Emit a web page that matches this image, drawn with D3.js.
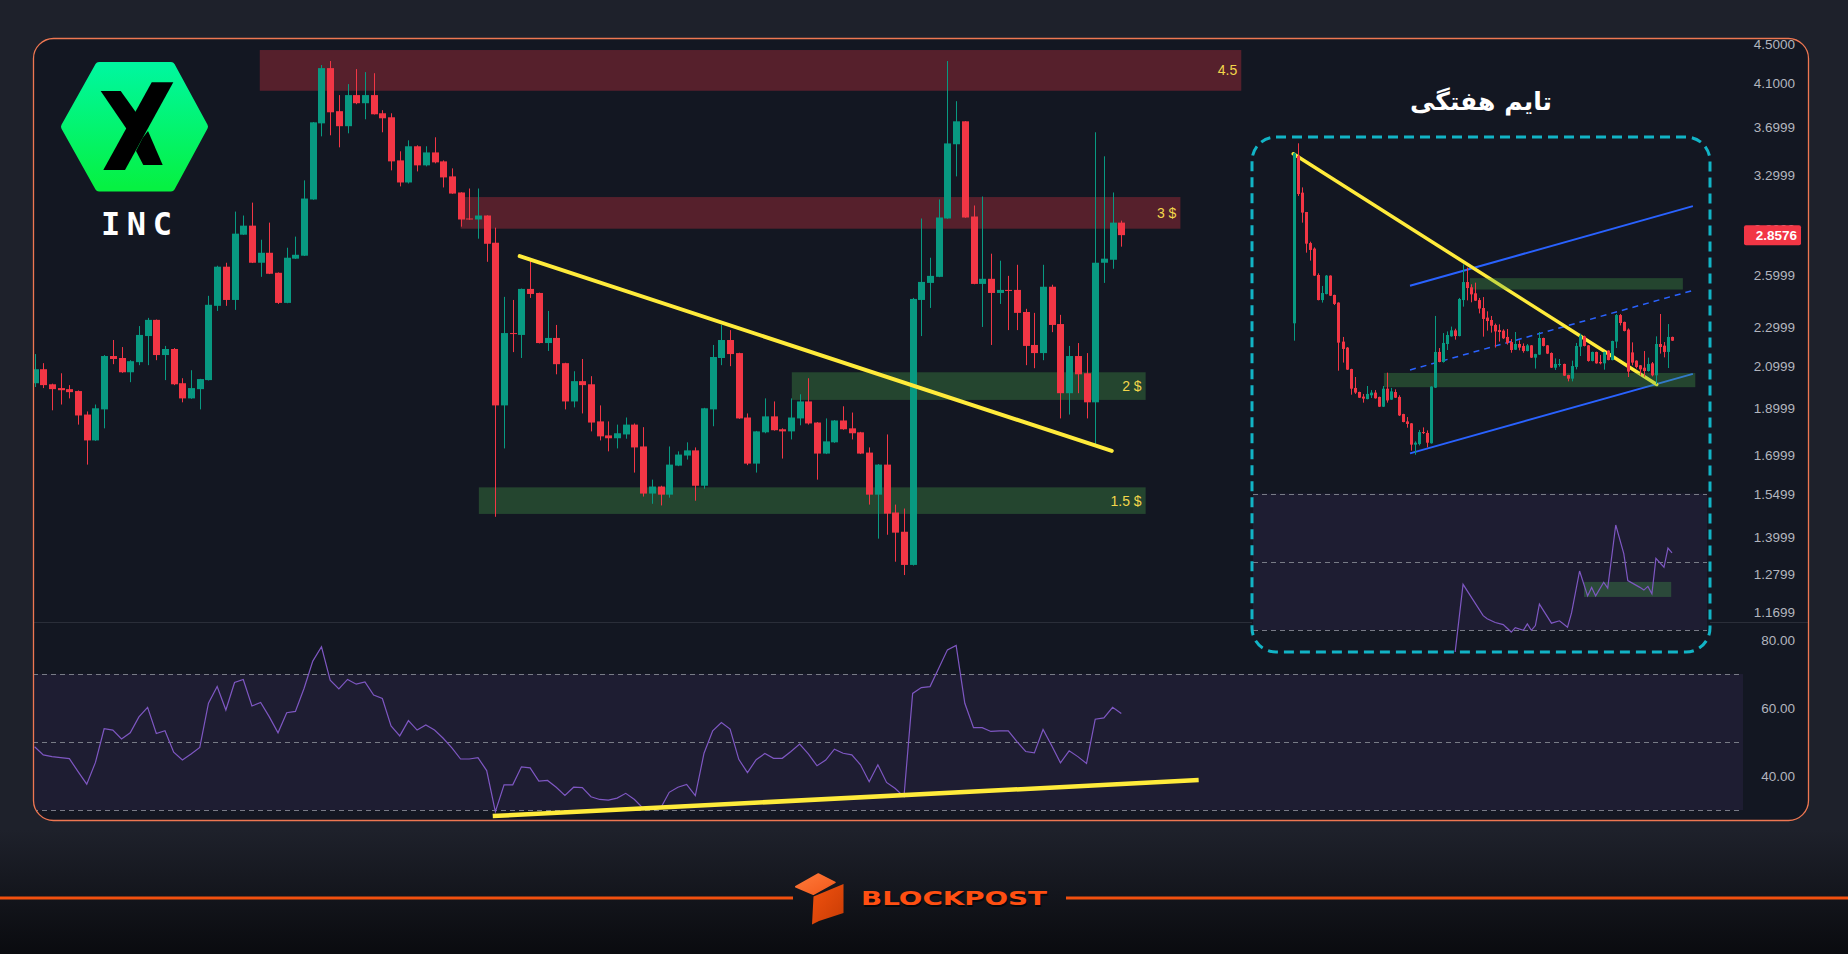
<!DOCTYPE html>
<html>
<head>
<meta charset="utf-8">
<title>INC</title>
<script src="https://cdn.jsdelivr.net/npm/d3@7/dist/d3.min.js"></script>
<style>
  html, body { margin: 0; padding: 0; background: #1e212b; overflow: hidden; }
  svg { display: block; }
</style>
</head>
<body>
<svg id="chart" width="1848" height="954"></svg>
<script>
// ============ daily candles (price) ============
const opens = [
  2.012, 2.080, 2.007, 1.989, 1.984, 1.975, 1.868, 1.757, 1.891, 2.146,
  2.136, 2.065, 2.115, 2.250, 2.338, 2.151, 2.182, 2.012, 1.941, 1.984,
  2.027, 2.417, 2.652, 2.451, 2.861, 2.923, 2.677, 2.741, 2.614, 2.434,
  2.703, 2.722, 3.110, 3.725, 4.246, 3.834, 3.700, 3.983, 3.907, 3.983,
  3.815, 3.779, 3.412, 3.238, 3.528, 3.372, 3.477, 3.404, 3.285, 3.162,
  2.973, 2.966, 2.994, 2.807, 1.909, 2.266, 2.256, 2.516, 2.492, 2.213,
  2.240, 2.110, 1.927, 2.022, 2.007, 1.838, 1.778, 1.766, 1.782, 1.824,
  1.732, 1.549, 1.575, 1.545, 1.655, 1.695, 1.716, 1.578, 1.891, 2.136,
  2.229, 2.161, 1.855, 1.663, 1.791, 1.860, 1.804, 1.795, 1.851, 1.927,
  1.833, 1.703, 1.749, 1.842, 1.808, 1.791, 1.707, 1.545, 1.659, 1.481,
  1.415, 1.308, 2.451, 2.552, 2.589, 2.973, 3.545, 3.743, 2.987, 2.546,
  2.577, 2.492, 2.510, 2.510, 2.382, 2.203, 2.161, 2.529, 2.315, 1.965,
  2.146, 2.060, 1.923, 2.677, 2.696, 2.944
];
const highs = [
  2.156, 2.110, 2.010, 2.060, 2.003, 1.978, 1.882, 1.913, 2.151, 2.229,
  2.192, 2.125, 2.304, 2.349, 2.340, 2.198, 2.187, 2.036, 2.075, 2.033,
  2.475, 2.658, 2.677, 3.022, 2.994, 3.087, 2.827, 2.944, 2.616, 2.774,
  2.848, 3.254, 3.737, 4.277, 4.318, 3.983, 4.088, 4.236, 4.206, 4.195,
  3.843, 3.815, 3.486, 3.578, 3.536, 3.528, 3.604, 3.412, 3.348, 3.164,
  3.192, 3.192, 2.996, 2.909, 2.469, 2.451, 2.518, 2.696, 2.494, 2.388,
  2.310, 2.112, 2.070, 2.131, 2.046, 1.909, 1.838, 1.824, 1.855, 1.829,
  1.813, 1.601, 1.578, 1.732, 1.712, 1.749, 1.728, 1.898, 2.203, 2.310,
  2.282, 2.163, 1.873, 1.797, 1.941, 1.927, 1.808, 1.941, 1.960, 2.036,
  1.835, 1.851, 1.844, 1.905, 1.877, 1.793, 1.728, 1.661, 1.782, 1.509,
  1.495, 2.463, 2.973, 2.709, 3.110, 4.318, 3.926, 3.745, 3.066, 3.132,
  2.735, 2.690, 2.595, 2.664, 2.400, 2.377, 2.664, 2.541, 2.366, 2.198,
  2.213, 2.161, 3.647, 3.445, 3.162, 2.958
];
const lows = [
  1.994, 1.989, 1.887, 1.913, 1.941, 1.824, 1.659, 1.755, 1.808, 2.105,
  2.062, 2.017, 2.100, 2.100, 2.125, 2.027, 2.003, 1.923, 1.939, 1.891,
  2.025, 2.388, 2.417, 2.394, 2.859, 2.675, 2.589, 2.606, 2.428, 2.432,
  2.701, 2.720, 3.108, 3.612, 3.621, 3.519, 3.638, 3.898, 3.761, 3.804,
  3.647, 3.332, 3.208, 3.230, 3.324, 3.364, 3.388, 3.200, 3.152, 2.916,
  2.964, 2.834, 2.683, 1.466, 1.724, 2.166, 2.136, 2.463, 2.211, 2.172,
  2.055, 1.891, 1.900, 1.873, 1.795, 1.757, 1.712, 1.724, 1.764, 1.628,
  1.538, 1.512, 1.506, 1.534, 1.653, 1.679, 1.523, 1.567, 1.817, 2.100,
  2.095, 1.849, 1.657, 1.628, 1.787, 1.798, 1.683, 1.761, 1.821, 1.824,
  1.601, 1.701, 1.747, 1.802, 1.761, 1.701, 1.509, 1.392, 1.405, 1.318,
  1.277, 1.306, 2.250, 2.405, 2.587, 2.971, 3.285, 2.978, 2.544, 2.299,
  2.203, 2.428, 2.282, 2.282, 2.100, 2.085, 2.125, 2.271, 1.851, 1.868,
  1.965, 1.851, 1.732, 2.552, 2.639, 2.781
];
const closes = [
  2.080, 2.003, 1.984, 1.979, 1.970, 1.864, 1.757, 1.896, 2.146, 2.131,
  2.065, 2.120, 2.256, 2.338, 2.151, 2.182, 2.007, 1.941, 1.989, 2.032,
  2.423, 2.652, 2.451, 2.868, 2.923, 2.677, 2.741, 2.608, 2.434, 2.709,
  2.728, 3.117, 3.734, 4.246, 3.824, 3.700, 3.983, 3.907, 3.983, 3.806,
  3.770, 3.404, 3.238, 3.528, 3.372, 3.477, 3.396, 3.277, 3.154, 2.966,
  2.966, 2.994, 2.800, 1.909, 2.266, 2.261, 2.516, 2.486, 2.213, 2.240,
  2.105, 1.927, 2.022, 2.003, 1.833, 1.774, 1.766, 1.787, 1.824, 1.728,
  1.549, 1.575, 1.545, 1.659, 1.699, 1.716, 1.578, 1.896, 2.141, 2.229,
  2.156, 1.851, 1.663, 1.795, 1.860, 1.800, 1.795, 1.855, 1.927, 1.829,
  1.703, 1.753, 1.842, 1.804, 1.787, 1.703, 1.545, 1.659, 1.477, 1.412,
  1.308, 2.457, 2.558, 2.595, 2.980, 3.552, 3.743, 2.980, 2.546, 2.577,
  2.492, 2.510, 2.504, 2.377, 2.198, 2.161, 2.529, 2.310, 1.965, 2.146,
  2.055, 1.923, 2.677, 2.703, 2.944, 2.858
];
const lastPrice = 2.8576;

// ============ daily RSI ============
const rsiValues = [
  48.6, 46.2, 45.7, 45.4, 45.1, 41.3, 37.6, 44.0, 53.9, 53.5,
  50.9, 52.7, 57.4, 60.2, 52.5, 53.3, 47.0, 44.7, 46.5, 48.4,
  61.4, 66.3, 59.4, 67.5, 68.4, 60.6, 61.6, 57.4, 52.7, 58.6,
  59.0, 65.8, 73.8, 78.0, 68.2, 65.6, 68.4, 67.0, 67.7, 63.8,
  62.8, 54.7, 51.8, 56.3, 53.5, 55.0, 53.5, 51.1, 48.3, 45.0,
  45.0, 45.4, 41.6, 29.5, 37.4, 37.4, 42.7, 42.4, 38.5, 38.7,
  36.7, 34.3, 36.7, 36.6, 33.9, 33.1, 32.9, 33.5, 34.9, 33.1,
  30.5, 31.0, 30.5, 35.2, 36.7, 37.5, 34.2, 46.7, 53.3, 55.7,
  53.8, 44.9, 41.0, 44.8, 46.6, 45.2, 45.2, 47.2, 49.4, 46.5,
  43.0, 44.7, 47.9, 46.7, 46.2, 43.3, 38.3, 43.3, 38.1, 36.3,
  33.9, 64.3, 66.0, 66.3, 71.7, 77.1, 78.4, 61.4, 54.2, 54.2,
  53.1, 53.3, 53.3, 50.1, 47.2, 46.8, 53.7, 48.9, 43.9, 47.4,
  45.7, 43.7, 56.7, 57.1, 60.2, 58.4
];

// ============ axis ticks ============
const tickLabels = ['4.5000', '4.1000', '3.6999', '3.2999', '2.8999', '2.5999', '2.2999',
  '2.0999', '1.8999', '1.6999', '1.5499', '1.3999', '1.2799', '1.1699'];
const rsiTicks = [80, 60, 40];
const rsiBands = [70, 50, 30];

// ============ zones & drawings (bar index / price) ============
const zoneLabels = ['4.5', '3 $', '2 $', '1.5 $'];
const zoneKinds = ['supply', 'supply', 'demand', 'demand'];
const zoneTop = [4.432, 3.128, 2.065, 1.572];
const zoneBottom = [4.024, 2.902, 1.934, 1.476];
const zoneFrom = [25.9, 49.0, 87.1, 51.1];
const zoneTo = [138.8, 131.8, 127.8, 127.8];

const trendIdx = [55.8, 123.9];
const trendPrices = [2.719, 1.714];
const rsiTrendIdx = [52.7, 133.9];
const rsiTrendVals = [28.2, 38.8];

// ============ weekly inset ============
const insetTitle = 'تایم هفتگی';
const insetOpens = [
  2.378, 3.493, 3.249, 3.120, 2.913, 2.876, 2.700, 2.533, 2.573, 2.696,
  2.567, 2.516, 2.256, 2.216, 2.073, 1.947, 1.920, 1.889, 1.873, 1.898,
  1.916, 1.887, 1.822, 1.942, 1.869, 1.920, 1.887, 1.773, 1.724, 1.711,
  1.569, 1.573, 1.653, 1.647, 1.578, 1.949, 2.187, 2.120, 2.240, 2.291,
  2.331, 2.293, 2.533, 2.653, 2.618, 2.578, 2.533, 2.480, 2.416, 2.400,
  2.367, 2.333, 2.329, 2.287, 2.253, 2.202, 2.240, 2.227, 2.193, 2.231,
  2.149, 2.169, 2.280, 2.231, 2.180, 2.082, 2.100, 2.107, 2.033, 2.009,
  2.087, 2.222, 2.291, 2.231, 2.127, 2.187, 2.120, 2.111, 2.196, 2.133,
  2.256, 2.433, 2.387, 2.336, 2.184, 2.129, 2.098, 2.082, 2.060, 2.111,
  2.031, 2.240, 2.229, 2.187, 2.287
];
const insetHighs = [
  3.516, 3.578, 3.284, 3.120, 2.922, 2.884, 2.711, 2.627, 2.700, 2.698,
  2.569, 2.518, 2.287, 2.220, 2.075, 2.020, 1.922, 1.907, 1.960, 1.933,
  1.933, 1.889, 1.960, 2.049, 1.947, 1.938, 1.898, 1.775, 1.753, 1.713,
  1.591, 1.667, 1.684, 1.664, 1.958, 2.427, 2.213, 2.313, 2.324, 2.356,
  2.342, 2.547, 2.771, 2.749, 2.638, 2.649, 2.547, 2.553, 2.458, 2.427,
  2.376, 2.371, 2.338, 2.340, 2.273, 2.320, 2.264, 2.244, 2.240, 2.233,
  2.175, 2.320, 2.282, 2.233, 2.184, 2.144, 2.140, 2.109, 2.035, 2.129,
  2.247, 2.309, 2.296, 2.233, 2.189, 2.189, 2.167, 2.189, 2.198, 2.262,
  2.440, 2.440, 2.389, 2.344, 2.251, 2.131, 2.100, 2.193, 2.149, 2.120,
  2.291, 2.440, 2.253, 2.373, 2.289
];
const insetLows = [
  2.262, 3.227, 3.049, 2.849, 2.796, 2.694, 2.531, 2.516, 2.571, 2.560,
  2.500, 2.062, 2.116, 2.067, 1.902, 1.907, 1.880, 1.849, 1.871, 1.880,
  1.876, 1.820, 1.820, 1.849, 1.867, 1.880, 1.760, 1.718, 1.682, 1.529,
  1.502, 1.564, 1.640, 1.551, 1.576, 1.947, 2.118, 2.116, 2.200, 2.289,
  2.269, 2.291, 2.489, 2.531, 2.518, 2.527, 2.444, 2.289, 2.329, 2.316,
  2.216, 2.256, 2.273, 2.236, 2.182, 2.200, 2.198, 2.182, 2.191, 2.147,
  2.076, 2.167, 2.224, 2.173, 2.080, 2.067, 2.089, 2.027, 1.991, 1.991,
  2.071, 2.160, 2.224, 2.122, 2.124, 2.109, 2.104, 2.069, 2.131, 2.131,
  2.213, 2.364, 2.324, 2.020, 2.098, 2.078, 2.031, 2.022, 2.056, 2.024,
  1.973, 2.176, 2.151, 2.080, 2.260
];
const insetCloses = [
  3.511, 3.240, 3.116, 2.909, 2.867, 2.696, 2.533, 2.580, 2.696, 2.562,
  2.507, 2.249, 2.207, 2.069, 1.942, 1.916, 1.882, 1.876, 1.907, 1.916,
  1.878, 1.822, 1.942, 1.864, 1.924, 1.882, 1.764, 1.720, 1.707, 1.569,
  1.582, 1.653, 1.647, 1.582, 1.956, 2.187, 2.120, 2.247, 2.300, 2.331,
  2.293, 2.540, 2.653, 2.613, 2.571, 2.529, 2.476, 2.407, 2.393, 2.362,
  2.324, 2.320, 2.278, 2.247, 2.200, 2.240, 2.216, 2.193, 2.231, 2.149,
  2.173, 2.280, 2.227, 2.176, 2.082, 2.107, 2.107, 2.029, 2.009, 2.093,
  2.227, 2.296, 2.227, 2.127, 2.187, 2.111, 2.111, 2.187, 2.133, 2.260,
  2.433, 2.380, 2.327, 2.056, 2.116, 2.087, 2.071, 2.060, 2.107, 2.031,
  2.240, 2.220, 2.187, 2.287, 2.262
];
const insetRsiWeeks = [40, 42, 47, 48, 50, 52, 54, 55, 57, 58, 59, 60, 61, 64, 66, 68, 69,
  71, 73, 74, 75, 77, 78, 80, 82, 83, 86, 87, 88, 89, 90, 92, 93, 94];
const insetRsiValues = [23.2, 43.4, 34.2, 33.3, 32.2, 31.6, 29.4, 30.7, 29.9, 31.8, 29.9, 31.3, 37.6,
  32.0, 32.7, 30.8, 35.0, 47.3, 40.0, 42.5, 40.0, 44.0, 42.3, 60.8, 52.4, 44.5, 42.5, 41.7,
  42.8, 40.6, 51.0, 48.4, 54.0, 52.6];

const insetTrendWeeks = [-0.25, 90.2];
const insetTrendPrices = [3.508, 1.970];
const channelWeeks = [28.8, 99.2];
const channelUpper = [2.628, 3.159];
const channelMid = [2.067, 2.597];
const channelLower = [1.511, 2.041];
const insetZoneFrom = [43.7, 22.3];
const insetZoneTo = [96.7, 99.8];
const insetZoneTop = [2.679, 2.047];
const insetZoneBottom = [2.603, 1.952];
const insetRsiZoneWeeks = [72.1, 93.8];
const insetRsiZoneVals = [44.1, 39.7];

// ============ setup ============
const W = 1848, H = 954;
const UP = '#089981', DOWN = '#f23645';
const AXIS_FONT = '"Liberation Sans", Arial, sans-serif';

const svg = d3.select('#chart');
const defs = svg.append('defs');

const x = d3.scaleLinear().domain([0, 125]).range([34.6, 1121.3]);
const y = d3.scaleLog().domain([1.1699, 4.5]).range([612, 43.6]);
const yRsi = d3.scaleLinear().domain([30, 80]).range([810, 640]);

const xIn = d3.scaleLinear().domain([0, 94]).range([1294.3, 1672]);
const yIn = d3.scaleLinear().domain([1.6, 3.6]).range([440, 140]);
const yInRsi = d3.scaleLinear().domain([30, 70]).range([630, 493.6]);

// ============ background ============
svg.append('rect').attr('width', W).attr('height', H).attr('fill', '#1e212b');
const bgGrad = defs.append('linearGradient').attr('id', 'bgGrad')
  .attr('x1', 0).attr('y1', 0).attr('x2', 0).attr('y2', 1);
bgGrad.append('stop').attr('offset', '0%').attr('stop-color', '#1e212b');
bgGrad.append('stop').attr('offset', '100%').attr('stop-color', '#0a0b0f');
svg.append('rect').attr('y', 830).attr('width', W).attr('height', H - 830).attr('fill', 'url(#bgGrad)');

// ============ panel ============
const panel = { x: 33.5, y: 38.5, w: 1775, h: 782, r: 20 };
defs.append('clipPath').attr('id', 'panelClip').append('rect')
  .attr('x', panel.x).attr('y', panel.y).attr('width', panel.w).attr('height', panel.h).attr('rx', panel.r);
defs.append('clipPath').attr('id', 'priceClip').append('rect')
  .attr('x', 33).attr('y', 38).attr('width', 1710).attr('height', 584);

svg.append('rect')
  .attr('x', panel.x).attr('y', panel.y).attr('width', panel.w).attr('height', panel.h).attr('rx', panel.r)
  .attr('fill', '#131722');

const main = svg.append('g').attr('clip-path', 'url(#panelClip)');
const price = main.append('g').attr('clip-path', 'url(#priceClip)');

// zones
const zones = zoneLabels.map((label, k) => ({
  label, kind: zoneKinds[k], top: zoneTop[k], bottom: zoneBottom[k], from: zoneFrom[k], to: zoneTo[k]
}));
price.selectAll('rect.zone').data(zones).join('rect')
  .attr('class', 'zone')
  .attr('x', d => x(d.from))
  .attr('width', d => x(d.to) - x(d.from))
  .attr('y', d => y(d.top))
  .attr('height', d => y(d.bottom) - y(d.top))
  .attr('fill', d => d.kind === 'supply' ? 'rgba(242,54,69,0.3)' : 'rgba(76,175,80,0.3)');

// candles
const bars = opens.map((o, i) => ({ i, o, h: highs[i], l: lows[i], c: closes[i] }));
price.selectAll('line.wick').data(bars).join('line')
  .attr('class', 'wick')
  .attr('x1', d => Math.round(x(d.i)) + 0.5)
  .attr('x2', d => Math.round(x(d.i)) + 0.5)
  .attr('y1', d => y(d.h))
  .attr('y2', d => y(d.l))
  .attr('stroke', d => d.c >= d.o ? UP : DOWN)
  .attr('stroke-width', 1);
price.selectAll('rect.body').data(bars).join('rect')
  .attr('class', 'body')
  .attr('x', d => Math.round(x(d.i)) - 3)
  .attr('width', 7)
  .attr('y', d => y(Math.max(d.o, d.c)))
  .attr('height', d => Math.max(1, Math.abs(y(d.o) - y(d.c))))
  .attr('fill', d => d.c >= d.o ? UP : DOWN);

// trend line
price.append('line')
  .attr('x1', x(trendIdx[0])).attr('y1', y(trendPrices[0]))
  .attr('x2', x(trendIdx[1])).attr('y2', y(trendPrices[1]))
  .attr('stroke', '#ffeb3b').attr('stroke-width', 4).attr('stroke-linecap', 'round');

// zone labels
price.selectAll('text.zoneLabel').data(zones).join('text')
  .attr('class', 'zoneLabel')
  .attr('x', d => x(d.to) - 4)
  .attr('y', d => (y(d.top) + y(d.bottom)) / 2)
  .attr('dy', '0.36em')
  .attr('text-anchor', 'end')
  .attr('fill', '#f2d64b')
  .style('font', `14px ${AXIS_FONT}`)
  .text(d => d.label);

// separator
main.append('line')
  .attr('x1', 33).attr('x2', 1808).attr('y1', 622.5).attr('y2', 622.5)
  .attr('stroke', '#2a2e39').attr('stroke-width', 1);

// ============ RSI pane ============
main.append('rect')
  .attr('x', 33).attr('width', 1743 - 33)
  .attr('y', yRsi(70)).attr('height', yRsi(30) - yRsi(70))
  .attr('fill', 'rgba(126,87,194,0.1)');
main.selectAll('line.band').data(rsiBands).join('line')
  .attr('class', 'band')
  .attr('x1', 33).attr('x2', 1743)
  .attr('y1', d => Math.round(yRsi(d)) + 0.5).attr('y2', d => Math.round(yRsi(d)) + 0.5)
  .attr('stroke', '#787b86').attr('stroke-dasharray', '5,4').attr('stroke-width', 1);

main.append('path')
  .datum(rsiValues)
  .attr('fill', 'none')
  .attr('stroke', '#7e57c2')
  .attr('stroke-width', 1.2)
  .attr('d', d3.line().x((d, i) => x(i)).y(d => yRsi(d)));

main.append('line')
  .attr('x1', x(rsiTrendIdx[0])).attr('y1', yRsi(rsiTrendVals[0]))
  .attr('x2', x(rsiTrendIdx[1])).attr('y2', yRsi(rsiTrendVals[1]))
  .attr('stroke', '#ffeb3b').attr('stroke-width', 4.5).attr('stroke-linecap', 'butt');

// panel border
svg.append('rect')
  .attr('x', panel.x).attr('y', panel.y).attr('width', panel.w).attr('height', panel.h).attr('rx', panel.r)
  .attr('fill', 'none').attr('stroke', '#ee7752').attr('stroke-width', 1.3);

// ============ right axes ============
const priceAxis = d3.axisLeft(y)
  .tickValues(tickLabels.map(Number))
  .tickFormat((d, i) => tickLabels[i])
  .tickSize(0).tickPadding(0);
svg.append('g')
  .attr('transform', 'translate(1795,0)')
  .attr('color', '#b2b5be')
  .call(priceAxis)
  .call(g => g.select('.domain').remove())
  .call(g => g.selectAll('text').attr('font-family', AXIS_FONT).attr('font-size', 13.5).attr('dy', '0.36em'));

const rsiAxis = d3.axisLeft(yRsi).tickValues(rsiTicks).tickFormat(d3.format('.2f')).tickSize(0).tickPadding(0);
svg.append('g')
  .attr('transform', 'translate(1795,0)')
  .attr('color', '#b2b5be')
  .call(rsiAxis)
  .call(g => g.select('.domain').remove())
  .call(g => g.selectAll('text').attr('font-family', AXIS_FONT).attr('font-size', 13.5).attr('dy', '0.36em'));

// last price tag
const tagY = y(lastPrice);
svg.append('rect')
  .attr('x', 1744).attr('y', tagY - 10).attr('width', 57).attr('height', 20).attr('rx', 2)
  .attr('fill', DOWN);
svg.append('text')
  .attr('x', 1797).attr('y', tagY).attr('dy', '0.36em')
  .attr('text-anchor', 'end').attr('fill', '#ffffff')
  .style('font', `bold 13.5px ${AXIS_FONT}`)
  .text(lastPrice.toFixed(4));

// ============ weekly inset ============
const box = { x: 1252, y: 137, w: 458, h: 515, r: 24 };
defs.append('clipPath').attr('id', 'insetClip').append('rect')
  .attr('x', box.x).attr('y', box.y).attr('width', box.w).attr('height', box.h).attr('rx', box.r);

svg.append('rect')
  .attr('x', box.x).attr('y', box.y).attr('width', box.w).attr('height', box.h).attr('rx', box.r)
  .attr('fill', '#131722');

const inset = svg.append('g').attr('clip-path', 'url(#insetClip)');

// inset rsi band
inset.append('rect')
  .attr('x', 1253).attr('width', 1707 - 1253)
  .attr('y', yInRsi(70)).attr('height', yInRsi(30) - yInRsi(70))
  .attr('fill', 'rgba(126,87,194,0.1)');
inset.selectAll('line.iband').data(rsiBands).join('line')
  .attr('class', 'iband')
  .attr('x1', 1253).attr('x2', 1707)
  .attr('y1', d => Math.round(yInRsi(d)) + 0.5).attr('y2', d => Math.round(yInRsi(d)) + 0.5)
  .attr('stroke', '#787b86').attr('stroke-dasharray', '5,4');

// channel
const channel = [
  { p: channelUpper, dash: null },
  { p: channelMid, dash: '6,5' },
  { p: channelLower, dash: null }
];
inset.selectAll('line.channel').data(channel).join('line')
  .attr('class', 'channel')
  .attr('x1', xIn(channelWeeks[0])).attr('x2', xIn(channelWeeks[1]))
  .attr('y1', d => yIn(d.p[0])).attr('y2', d => yIn(d.p[1]))
  .attr('stroke', '#2962ff')
  .attr('stroke-width', d => d.dash ? 1.5 : 2)
  .attr('stroke-dasharray', d => d.dash);

// yellow weekly trend
inset.append('line')
  .attr('x1', xIn(insetTrendWeeks[0])).attr('y1', yIn(insetTrendPrices[0]))
  .attr('x2', xIn(insetTrendWeeks[1])).attr('y2', yIn(insetTrendPrices[1]))
  .attr('stroke', '#ffeb3b').attr('stroke-width', 3.5).attr('stroke-linecap', 'round');

// inset zones (over the lines)
inset.selectAll('rect.izone').data(insetZoneFrom).join('rect')
  .attr('class', 'izone')
  .attr('x', (d, k) => xIn(d))
  .attr('width', (d, k) => xIn(insetZoneTo[k]) - xIn(d))
  .attr('y', (d, k) => yIn(insetZoneTop[k]))
  .attr('height', (d, k) => yIn(insetZoneBottom[k]) - yIn(insetZoneTop[k]))
  .attr('fill', 'rgba(76,175,80,0.3)');

// inset candles
const weeks = insetOpens.map((o, j) => ({ j, o, h: insetHighs[j], l: insetLows[j], c: insetCloses[j] }));
inset.selectAll('line.iwick').data(weeks).join('line')
  .attr('class', 'iwick')
  .attr('x1', d => Math.round(xIn(d.j)) + 0.5)
  .attr('x2', d => Math.round(xIn(d.j)) + 0.5)
  .attr('y1', d => yIn(d.h))
  .attr('y2', d => yIn(d.l))
  .attr('stroke', d => d.c >= d.o ? UP : DOWN);
inset.selectAll('rect.ibody').data(weeks).join('rect')
  .attr('class', 'ibody')
  .attr('x', d => Math.round(xIn(d.j)) - 1)
  .attr('width', 3)
  .attr('y', d => yIn(Math.max(d.o, d.c)))
  .attr('height', d => Math.max(1, Math.abs(yIn(d.o) - yIn(d.c))))
  .attr('fill', d => d.c >= d.o ? UP : DOWN);

// inset rsi zone + line
inset.append('rect')
  .attr('x', xIn(insetRsiZoneWeeks[0]))
  .attr('width', xIn(insetRsiZoneWeeks[1]) - xIn(insetRsiZoneWeeks[0]))
  .attr('y', yInRsi(insetRsiZoneVals[0]))
  .attr('height', yInRsi(insetRsiZoneVals[1]) - yInRsi(insetRsiZoneVals[0]))
  .attr('fill', 'rgba(76,175,80,0.3)');
inset.append('path')
  .datum(insetRsiWeeks.map((w, k) => [w, insetRsiValues[k]]))
  .attr('fill', 'none')
  .attr('stroke', '#7e57c2')
  .attr('stroke-width', 1.2)
  .attr('d', d3.line().x(d => xIn(d[0])).y(d => yInRsi(d[1])));

// dashed frame
svg.append('rect')
  .attr('x', box.x).attr('y', box.y).attr('width', box.w).attr('height', box.h).attr('rx', box.r)
  .attr('fill', 'none')
  .attr('stroke', '#12b4c6').attr('stroke-width', 3).attr('stroke-dasharray', '10,6');

svg.append('text')
  .attr('x', 1481).attr('y', 110)
  .attr('text-anchor', 'middle')
  .attr('fill', '#ffffff')
  .style('font', 'bold 25px "DejaVu Sans", sans-serif')
  .text(insetTitle);

// ============ INC logo ============
const hexGrad = defs.append('linearGradient').attr('id', 'hexGrad')
  .attr('x1', 0).attr('y1', 0).attr('x2', 0).attr('y2', 1);
hexGrad.append('stop').attr('offset', '0%').attr('stop-color', '#00f79e');
hexGrad.append('stop').attr('offset', '100%').attr('stop-color', '#06f142');

const logo = svg.append('g');
logo.append('polygon')
  .attr('points', '65,126.7 99,66 171,66 204,126.7 171,187.5 99,187.5')
  .attr('fill', 'url(#hexGrad)')
  .attr('stroke', 'url(#hexGrad)').attr('stroke-width', 8).attr('stroke-linejoin', 'round');
logo.append('polygon').attr('points', '100.7,91 120.7,91 140,118 128,131').attr('fill', '#000');
logo.append('polygon').attr('points', '142.6,138 148,131 162.7,165 143.3,165 136,151').attr('fill', '#000');
logo.append('polygon').attr('points', '103.3,170 125,170 173.3,82.3 151.7,82.3').attr('fill', '#000');
logo.append('text')
  .attr('x', 101).attr('y', 235)
  .attr('textLength', 71).attr('lengthAdjust', 'spacing')
  .attr('fill', '#ffffff')
  .style('font', 'bold 32px "DejaVu Sans Mono", monospace')
  .text('INC');

// ============ BLOCKPOST footer ============
svg.append('line').attr('x1', 0).attr('x2', 793).attr('y1', 898).attr('y2', 898)
  .attr('stroke', '#f2500f').attr('stroke-width', 3);
svg.append('line').attr('x1', 1066).attr('x2', W).attr('y1', 898).attr('y2', 898)
  .attr('stroke', '#f2500f').attr('stroke-width', 3);

const cubeTop = defs.append('linearGradient').attr('id', 'cubeTop').attr('x1', 0).attr('y1', 0).attr('x2', 1).attr('y2', 1);
cubeTop.append('stop').attr('offset', '0%').attr('stop-color', '#ff7a3a');
cubeTop.append('stop').attr('offset', '100%').attr('stop-color', '#f2591b');
const cubeSide = defs.append('linearGradient').attr('id', 'cubeSide').attr('x1', 0).attr('y1', 0).attr('x2', 1).attr('y2', 1);
cubeSide.append('stop').attr('offset', '0%').attr('stop-color', '#f2520f');
cubeSide.append('stop').attr('offset', '100%').attr('stop-color', '#c83c05');

const cube = svg.append('g');
cube.append('polygon').attr('points', '795.7,886.7 818.3,874 835,882.3 813.3,894.3')
  .attr('fill', 'url(#cubeTop)').attr('stroke', 'url(#cubeTop)').attr('stroke-width', 1.5).attr('stroke-linejoin', 'round');
cube.append('polygon').attr('points', '813.5,896.5 843.5,884 843.5,913 819,921 812,924.5')
  .attr('fill', 'url(#cubeSide)').attr('stroke-linejoin', 'round');

svg.append('text')
  .attr('x', 862).attr('y', 907)
  .attr('textLength', 186).attr('lengthAdjust', 'spacingAndGlyphs')
  .attr('fill', '#000000').attr('opacity', 0.55)
  .style('font', 'bold 20px "DejaVu Sans", sans-serif')
  .text('BLOCKPOST');
svg.append('text')
  .attr('x', 861).attr('y', 905)
  .attr('textLength', 186).attr('lengthAdjust', 'spacingAndGlyphs')
  .attr('fill', '#ff4f12')
  .style('font', 'bold 20px "DejaVu Sans", sans-serif')
  .text('BLOCKPOST');
</script>
</body>
</html>
